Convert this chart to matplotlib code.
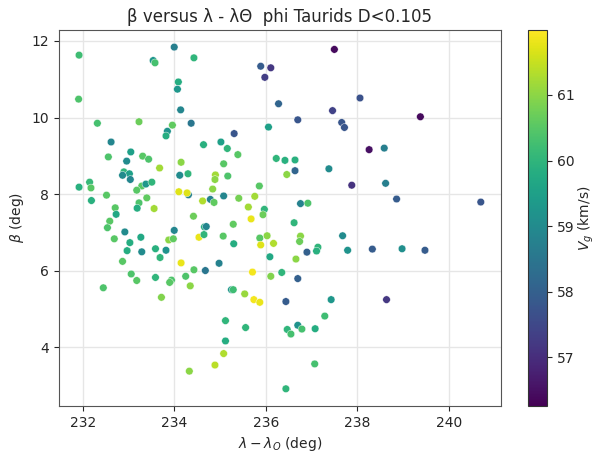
import matplotlib
matplotlib.use('Agg')
import matplotlib.pyplot as plt

# solar longitude offset (deg), ecliptic latitude (deg), geocentric velocity (km/s)
lam = [231.92, 231.91, 234.00, 233.54, 233.58, 234.43, 234.09, 234.07, 234.14, 232.32,
       233.23, 233.96, 233.85, 233.82, 234.37, 235.31, 232.62, 234.64, 235.02, 235.16,
       235.39, 232.56, 233.05, 232.96, 233.31, 233.44, 233.68, 234.15, 235.08, 232.90,
       233.02, 232.87, 233.04, 234.12, 234.30, 234.90, 234.89, 235.17, 232.15, 232.18,
       231.92, 233.29, 233.38, 233.51, 233.18, 234.31, 234.10, 234.28, 234.84, 234.62,
       234.79, 234.87, 235.08, 235.41, 232.19, 232.52, 233.56, 233.23, 233.40, 233.19,
       232.71, 232.73, 232.59, 234.42, 232.54, 232.92, 232.69, 233.03, 233.27, 232.97,
       233.29, 232.87, 233.59, 233.82, 233.69, 233.88, 233.98, 234.00, 234.15, 234.54,
       234.65, 234.66, 234.70, 235.07, 235.29, 235.30, 234.98, 234.68, 234.43, 234.25,
       234.35, 233.06, 233.18, 233.59, 233.94, 233.90, 232.45, 233.72, 235.25, 235.29,
       235.12, 235.12, 235.08, 234.89, 234.33, 237.50, 235.89, 236.11, 235.98, 238.06,
       236.28, 237.46, 236.70, 237.66, 237.72, 236.06, 238.26, 238.59, 236.23, 236.42,
       236.64, 236.64, 236.46, 237.38, 237.88, 238.62, 238.86, 235.86, 235.76, 235.62,
       235.97, 235.94, 235.68, 236.76, 236.92, 236.62, 237.68, 235.87, 236.03, 235.89,
       236.17, 236.76, 236.74, 237.14, 237.11, 236.90, 237.79, 238.33, 238.98, 236.09,
       236.66, 235.71, 236.11, 236.35, 236.70, 235.54, 235.74, 235.87, 236.44, 237.43,
       238.64, 237.29, 235.56, 236.47, 236.70, 236.79, 236.55, 237.08, 237.07, 236.44,
       239.38, 240.70, 239.48]
beta = [11.63, 10.48, 11.84, 11.49, 11.43, 11.56, 10.93, 10.74, 10.20, 9.85,
        9.89, 9.80, 9.64, 9.52, 9.85, 9.58, 9.36, 9.29, 9.36, 9.19,
        9.03, 8.97, 9.10, 8.86, 8.99, 8.91, 8.68, 8.83, 8.79, 8.58,
        8.53, 8.49, 8.38, 8.49, 8.53, 8.50, 8.38, 8.47, 8.31, 8.16,
        8.18, 8.21, 8.26, 8.31, 8.10, 7.98, 8.06, 8.03, 8.13, 7.82,
        7.86, 7.78, 7.95, 7.89, 7.83, 7.97, 7.62, 7.77, 7.90, 7.63,
        7.64, 7.47, 7.29, 7.42, 7.12, 7.01, 6.83, 6.73, 6.87, 6.52,
        6.49, 6.24, 6.57, 6.53, 6.34, 6.80, 6.83, 7.05, 6.20, 6.87,
        6.94, 7.14, 7.15, 6.90, 7.21, 6.70, 6.19, 6.00, 6.02, 5.85,
        5.60, 5.91, 5.74, 5.82, 5.75, 5.69, 5.55, 5.30, 5.50, 5.50,
        4.69, 4.16, 3.83, 3.53, 3.37, 11.78, 11.34, 11.30, 11.05, 10.51,
        10.36, 10.18, 9.94, 9.87, 9.74, 9.75, 9.16, 9.20, 8.93, 8.88,
        8.89, 8.61, 8.51, 8.66, 8.23, 8.28, 7.87, 8.21, 7.94, 7.66,
        7.60, 7.46, 7.35, 7.75, 7.76, 7.25, 6.91, 6.85, 6.91, 6.67,
        6.71, 6.90, 6.76, 6.61, 6.51, 6.48, 6.53, 6.56, 6.57, 6.36,
        6.30, 5.96, 5.85, 5.95, 5.79, 5.39, 5.24, 5.17, 5.19, 5.24,
        5.24, 4.81, 4.51, 4.46, 4.57, 4.47, 4.34, 4.48, 3.56, 2.91,
        10.02, 7.79, 6.53]
vg = [60.2, 60.4, 58.7, 59.3, 60.3, 60.0, 59.8, 59.3, 58.9, 60.3,
      60.7, 60.6, 59.2, 59.8, 58.5, 57.8, 58.9, 59.9, 59.5, 60.0,
      60.5, 60.4, 59.5, 59.0, 60.5, 60.4, 61.2, 61.0, 60.5, 60.0,
      59.5, 59.0, 58.9, 59.0, 60.0, 61.2, 61.0, 60.4, 60.1, 60.5,
      59.9, 60.5, 59.3, 60.0, 60.5, 58.8, 61.7, 61.7, 61.0, 61.3,
      58.8, 60.6, 58.9, 60.8, 59.9, 60.5, 61.2, 60.4, 60.6, 59.8,
      60.5, 59.7, 60.5, 60.7, 60.4, 59.0, 60.5, 59.8, 59.7, 59.8,
      59.0, 60.5, 59.9, 59.2, 60.0, 61.0, 60.6, 58.9, 61.8, 61.8,
      60.0, 59.8, 58.9, 60.5, 60.6, 59.8, 58.8, 58.5, 60.5, 60.4,
      61.0, 60.4, 60.5, 60.0, 60.4, 60.5, 60.4, 60.9, 59.3, 60.2,
      60.0, 59.8, 61.3, 61.4, 61.0, 56.4, 57.9, 57.2, 57.3, 57.7,
      58.1, 57.4, 57.8, 57.8, 57.8, 59.5, 56.5, 58.7, 60.0, 59.9,
      59.9, 58.1, 61.0, 59.0, 57.1, 58.7, 57.9, 60.5, 61.2, 61.2,
      60.0, 60.7, 61.8, 58.8, 60.4, 60.0, 59.0, 60.5, 61.0, 61.7,
      61.3, 61.0, 60.7, 60.0, 59.9, 58.0, 59.2, 57.9, 59.1, 59.7,
      61.0, 61.9, 60.9, 60.0, 58.0, 61.1, 61.9, 61.8, 57.9, 59.3,
      57.2, 60.2, 60.0, 60.0, 59.2, 60.3, 60.3, 59.8, 60.3, 60.0,
      56.4, 57.8, 57.9]

txt = '#262626'
plt.rcParams['text.color'] = txt
plt.rcParams['axes.labelcolor'] = txt
plt.rcParams['xtick.color'] = txt
plt.rcParams['ytick.color'] = txt

fig = plt.figure(figsize=(5.97, 4.55), dpi=100)
ax = fig.add_axes([0.098, 0.108, 0.741, 0.826])
cax = fig.add_axes([0.885, 0.108, 0.032, 0.826])

sc = ax.scatter(lam, beta, c=vg, cmap='viridis', vmin=56.26, vmax=61.99,
                s=30, edgecolors='white', linewidths=0.3, zorder=3)

ax.grid(True, color='#e6e6e6', linewidth=1)
ax.set_axisbelow(True)
for sp in ax.spines.values():
    sp.set_color('#555555')

ax.set_title('β versus λ - λΘ  phi Taurids D<0.105', fontsize=12)
ax.set_xlabel(r'$\lambda - \lambda_O$ (deg)')
ax.set_ylabel(r'$\beta$ (deg)')

cb = fig.colorbar(sc, cax=cax)
cb.set_label(r'$V_g$ (km/s)', labelpad=1)
cb.outline.set_edgecolor('#333333')

fig.savefig('out.png', dpi=100)
